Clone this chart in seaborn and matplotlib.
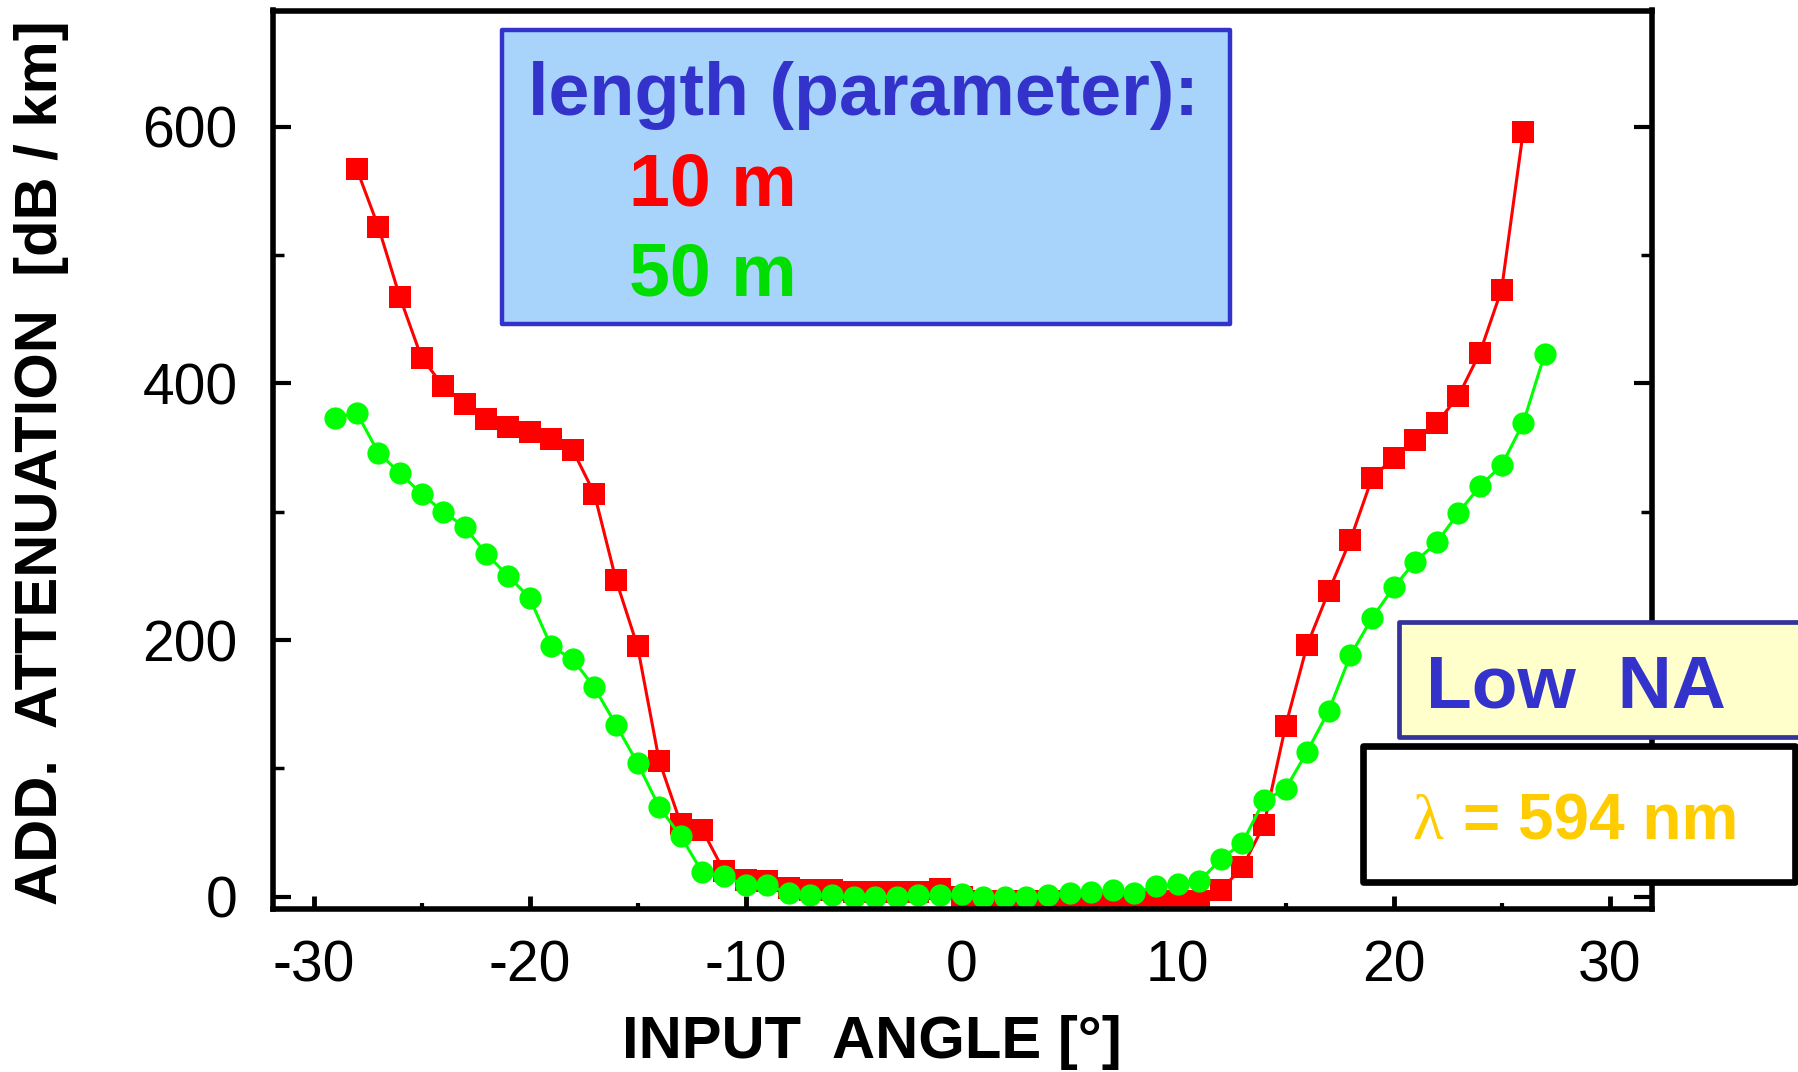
import numpy as np
import matplotlib
matplotlib.use("Agg")
import matplotlib.pyplot as plt
from matplotlib.patches import Rectangle
from matplotlib.ticker import MultipleLocator
import seaborn as sns

# input angle [deg] and additional attenuation [dB/km]
angle_10m = list(range(-28, 27))
att_10m = [567, 522, 467, 420, 398, 384, 372, 366, 362, 357,
           348, 314, 247, 195, 106, 57, 52, 20, 13, 12,
           7, 5, 5, 4, 4, 4, 4, 6, 0,
           -3, -3, -3, -3, -3, -3, -3, -3, -3, -3, -3,
           5, 23, 56, 133, 196, 238, 278, 326, 342, 356,
           369, 390, 424, 473, 596]

angle_50m = list(range(-29, 28))
att_50m = [373, 377, 346, 330, 314, 300, 288, 267, 250, 233,
           195, 185, 163, 134, 104, 70, 47, 19, 16, 9,
           9, 3, 1, 1, 0, 0, 0, 1, 1, 2,
           0, 0, 0, 1, 3, 4, 5, 3, 8, 10,
           12, 29, 42, 75, 84, 113, 145, 188, 217, 241,
           261, 276, 299, 320, 336, 369, 423]

y_ticks = [0, 200, 400, 600]
x_ticks = [-30, -20, -10, 0, 10, 20, 30]

sns.set_theme(style="ticks")
plt.rcParams['font.family'] = ['Liberation Sans', 'DejaVu Sans']
plt.rcParams['axes.unicode_minus'] = False
plt.rcParams['axes.edgecolor'] = 'black'
plt.rcParams['axes.labelcolor'] = 'black'
plt.rcParams['text.color'] = 'black'

W, H = 1798, 1072
fig = plt.figure(figsize=(W / 100, H / 100), dpi=100)
ax = fig.add_axes([272.5 / W, 1 - 909 / H, 1379.2 / W, 898.5 / H])

sns.lineplot(x=angle_10m, y=att_10m, color='#ff0000', linewidth=2.2,
             marker='s', markersize=16.5, markeredgewidth=0, ax=ax)
sns.lineplot(x=angle_50m, y=att_50m, color='#00ff00', linewidth=2.2,
             marker='o', markersize=16, markeredgewidth=0, ax=ax)

ax.set_xlim(-31.9, 31.95)
ax.set_ylim(-9.6, 690.5)
ax.set_xticks(x_ticks)
ax.set_yticks(y_ticks)
ax.xaxis.set_minor_locator(MultipleLocator(5))
ax.yaxis.set_minor_locator(MultipleLocator(100))

for s in ax.spines.values():
    s.set_linewidth(4)
    s.set_color('black')

ax.tick_params(axis='y', which='major', direction='in', left=True, right=True,
               length=13, width=3, labelsize=41, pad=25, colors='black')
ax.tick_params(axis='y', which='minor', direction='in', left=True, right=True,
               length=8, width=2.5, colors='black')
ax.tick_params(axis='x', which='major', direction='in', bottom=True, top=False,
               length=9.5, width=3.5, labelsize=41, pad=22, colors='black')
ax.tick_params(axis='x', which='minor', direction='in', bottom=True, top=False,
               length=4, width=3, colors='black')

ax.set_xlabel('INPUT  ANGLE [°]', fontsize=43, fontweight='bold', color='black')
ax.xaxis.set_label_coords((871.5 - 272.5) / 1379.2, (909 - 1058) / 898.5)
ax.xaxis.label.set_va('baseline')
ax.set_ylabel('ADD.  ATTENUATION  [dB / km]', fontsize=43, fontweight='bold', color='black')
ax.yaxis.set_label_coords((42 - 272.5) / 1379.2, (909 - 462.7) / 898.5)
ax.yaxis.label.set_va('center')


def fig_box(x0, y0, x1, y1, face, edge, lw):
    # pixel coords (top-left origin) -> figure fraction
    r = Rectangle((x0 / W, 1 - y1 / H), (x1 - x0) / W, (y1 - y0) / H,
                  transform=fig.transFigure, facecolor=face, edgecolor=edge,
                  linewidth=lw, joinstyle='round', zorder=5)
    fig.add_artist(r)


def fig_text(x, y, s, **kw):
    fig.text(x / W, 1 - y / H, s, ha='left', va='baseline', zorder=6, **kw)


# parameter box
fig_box(502, 29.5, 1230, 324, '#a8d4fb', '#3333cc', 3.2)
fig_text(528, 115, 'length (parameter):', fontsize=53, fontweight='bold', color='#3333cc')
fig_text(629, 205, '10 m', fontsize=53, fontweight='bold', color='#ff0000')
fig_text(629, 295, '50 m', fontsize=53, fontweight='bold', color='#00dd00')

# Low NA box
fig_box(1399.3, 621.7, 1810, 736.7, '#ffffcc', '#333399', 3.4)
fig_text(1426, 707, 'Low  NA', fontsize=54, fontweight='bold', color='#3333cc')

# wavelength box
fig_box(1362.7, 745.7, 1795, 881.7, 'white', 'black', 4.8)
fig_text(1412, 839, 'λ', fontsize=46, color='#ffcc00',
         family=['Liberation Serif', 'DejaVu Serif'])
fig_text(1463, 839, '= 594 nm', fontsize=46, fontweight='bold', color='#ffcc00')

fig.savefig('out.png', dpi=100)
